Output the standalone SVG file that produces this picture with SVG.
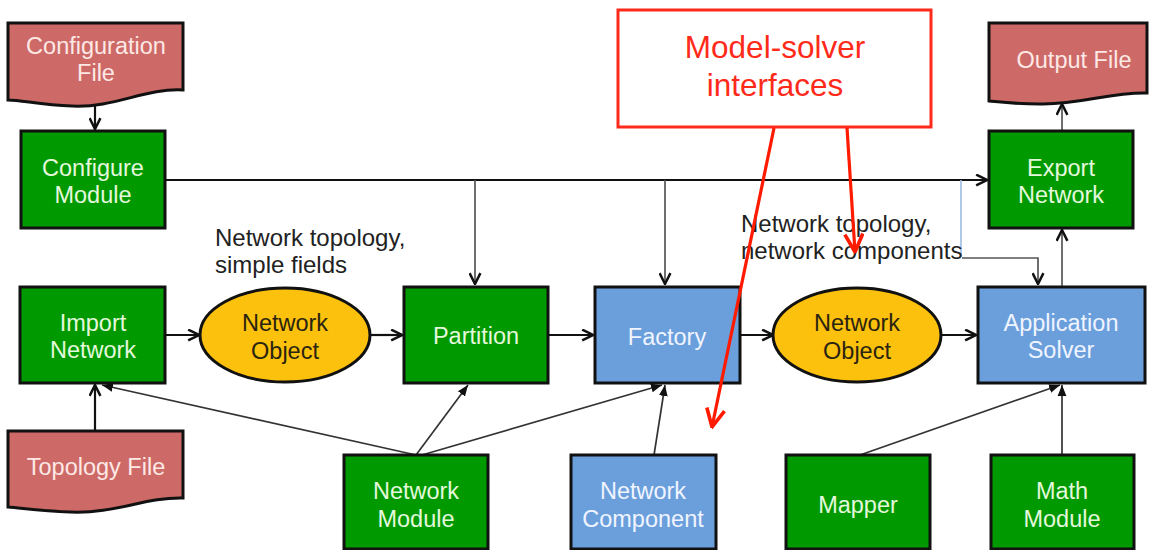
<svg xmlns="http://www.w3.org/2000/svg" width="1149" height="550" viewBox="0 0 1149 550">
  <defs>
    <style>
      text { font-family: "Liberation Sans", Arial, sans-serif; text-anchor: middle; }
      .box { stroke: #111; stroke-width: 3; }
      .green { fill: #009a00; }
      .blue { fill: #6a9fdc; }
      .doc { fill: #cd6a67; stroke: #111; stroke-width: 3; }
      .obj { fill: #fcc10c; stroke: #111; stroke-width: 3; }
      .lbl { font-size: 23.5px; fill: #e4f8dc; }
      .lbl-blue { font-size: 23.5px; fill: #f0f4ff; }
      .lbl-doc { font-size: 23.5px; fill: #fde8e6; }
      .lbl-obj { font-size: 23.5px; fill: #2a2410; }
      .note { font-size: 24px; fill: #222; text-anchor: start; }
      .flow { stroke: #111; stroke-width: 2.2; fill: none; marker-end: url(#open); }
      .feed { stroke: #555; stroke-width: 1.7; fill: none; marker-end: url(#open); }
      .thin { stroke: #333; stroke-width: 1.7; fill: none; marker-end: url(#solid); }
      .callout { stroke: #ff1a00; stroke-width: 3.2; fill: none; marker-end: url(#redhead); }
    </style>
    <marker id="open" viewBox="0 0 12 12" refX="11" refY="6" markerWidth="13" markerHeight="13" markerUnits="userSpaceOnUse" orient="auto">
      <path d="M1,1 L11,6 L1,11" fill="none" stroke="#111" stroke-width="2.3"/>
    </marker>
    <marker id="solid" viewBox="0 0 10 10" refX="10" refY="5" markerWidth="11" markerHeight="11" markerUnits="userSpaceOnUse" orient="auto">
      <path d="M0,1 L10,5 L0,9 Z" fill="#111"/>
    </marker>
    <marker id="redhead" viewBox="0 0 14 14" refX="13" refY="7" markerWidth="21" markerHeight="21" markerUnits="userSpaceOnUse" orient="auto">
      <path d="M1,1 L13,7 L1,13" fill="none" stroke="#ff1a00" stroke-width="2.4"/>
    </marker>
  </defs>

  <rect width="1149" height="550" fill="#ffffff"/>

  <!-- connectors -->
  <g id="connectors">
    <line class="flow" x1="95" y1="104" x2="95" y2="129"/>
    <line class="flow" x1="165" y1="180" x2="987" y2="180"/>
    <line class="feed" x1="475" y1="180" x2="475" y2="284"/>
    <line class="feed" x1="665" y1="180" x2="665" y2="284"/>
    <line x1="961" y1="180" x2="961" y2="257" stroke="#9bbbe2" stroke-width="1.6"/>
    <polyline class="feed" points="962,258 1038,258 1038,284"/>
    <line class="feed" x1="1062" y1="286" x2="1062" y2="230"/>
    <line class="feed" x1="1062" y1="131" x2="1062" y2="104"/>
    <line class="flow" x1="165" y1="335" x2="199" y2="335"/>
    <line class="flow" x1="370" y1="335" x2="402" y2="335"/>
    <line class="flow" x1="548" y1="335" x2="593" y2="335"/>
    <line class="flow" x1="740" y1="335" x2="773" y2="335"/>
    <line class="flow" x1="941" y1="335" x2="976" y2="335"/>
    <line class="flow" x1="95" y1="431" x2="95" y2="385"/>
    <line class="thin" x1="416" y1="455" x2="102" y2="385"/>
    <line class="thin" x1="416" y1="455" x2="468" y2="385"/>
    <line class="thin" x1="422" y1="455" x2="662" y2="385"/>
    <line class="thin" x1="654" y1="455" x2="665" y2="385"/>
    <line class="thin" x1="860" y1="455" x2="1060" y2="385"/>
    <line class="thin" x1="1062" y1="455" x2="1062" y2="385"/>
  </g>

  <!-- input / output files -->
  <g id="config-file">
    <path class="doc" d="M8,23 H183 V90 C145,88 115,108 72,106 C40,105 22,100 8,100 Z"/>
    <text class="lbl-doc" x="96" y="54">Configuration</text>
    <text class="lbl-doc" x="96" y="81">File</text>
  </g>
  <g id="output-file">
    <path class="doc" d="M989,23 H1147 V93 C1110,92 1080,105 1040,104 C1015,104 1000,102 989,101 Z"/>
    <text class="lbl-doc" x="1074" y="68">Output File</text>
  </g>
  <g id="topology-file">
    <path class="doc" d="M8,431 H183 V498 C145,497 115,514 70,512 C40,511 22,508 8,507 Z"/>
    <text class="lbl-doc" x="96" y="475">Topology File</text>
  </g>

  <!-- processing modules -->
  <g id="configure-module">
    <rect class="box green" x="21" y="131" width="144" height="97"/>
    <text class="lbl" x="93" y="176">Configure</text>
    <text class="lbl" x="93" y="203">Module</text>
  </g>
  <g id="export-network">
    <rect class="box green" x="989" y="131" width="144" height="97"/>
    <text class="lbl" x="1061" y="176">Export</text>
    <text class="lbl" x="1061" y="203">Network</text>
  </g>
  <g id="import-network">
    <rect class="box green" x="20" y="287" width="145" height="96"/>
    <text class="lbl" x="93" y="331">Import</text>
    <text class="lbl" x="93" y="358">Network</text>
  </g>
  <g id="network-object-1">
    <ellipse class="obj" cx="285" cy="335" rx="85" ry="47"/>
    <text class="lbl-obj" x="285" y="331">Network</text>
    <text class="lbl-obj" x="285" y="359">Object</text>
  </g>
  <g id="partition">
    <rect class="box green" x="404" y="287" width="144" height="96"/>
    <text class="lbl" x="476" y="344">Partition</text>
  </g>
  <g id="factory">
    <rect class="box blue" x="595" y="287" width="145" height="96"/>
    <text class="lbl-blue" x="667" y="345">Factory</text>
  </g>
  <g id="network-object-2">
    <ellipse class="obj" cx="857" cy="335" rx="84" ry="47"/>
    <text class="lbl-obj" x="857" y="331">Network</text>
    <text class="lbl-obj" x="857" y="359">Object</text>
  </g>
  <g id="application-solver">
    <rect class="box blue" x="978" y="287" width="167" height="96"/>
    <text class="lbl-blue" x="1061" y="331">Application</text>
    <text class="lbl-blue" x="1061" y="358">Solver</text>
  </g>
  <g id="network-module">
    <rect class="box green" x="344" y="455" width="144" height="94"/>
    <text class="lbl" x="416" y="499">Network</text>
    <text class="lbl" x="416" y="527">Module</text>
  </g>
  <g id="network-component">
    <rect class="box blue" x="571" y="455" width="145" height="94"/>
    <text class="lbl-blue" x="643" y="499">Network</text>
    <text class="lbl-blue" x="643" y="527">Component</text>
  </g>
  <g id="mapper">
    <rect class="box green" x="786" y="455" width="144" height="94"/>
    <text class="lbl" x="858" y="513">Mapper</text>
  </g>
  <g id="math-module">
    <rect class="box green" x="991" y="455" width="143" height="94"/>
    <text class="lbl" x="1062" y="499">Math</text>
    <text class="lbl" x="1062" y="527">Module</text>
  </g>

  <!-- data annotations -->
  <g id="note-topology-fields">
    <text class="note" x="215" y="246">Network topology,</text>
    <text class="note" x="215" y="273">simple fields</text>
  </g>
  <g id="note-topology-components">
    <text class="note" x="741" y="232">Network topology,</text>
    <text class="note" x="741" y="259">network components</text>
  </g>

  <!-- interface callout -->
  <g id="model-solver-interfaces">
    <rect x="618" y="10" width="313" height="117" fill="#ffffff" stroke="#ff2a1a" stroke-width="3"/>
    <text x="775" y="58" font-size="31.5px" fill="#ff2a1a">Model-solver</text>
    <text x="775" y="96" font-size="31.5px" fill="#ff2a1a">interfaces</text>
    <line class="callout" x1="774" y1="128" x2="712" y2="427"/>
    <line class="callout" x1="847" y1="128" x2="855" y2="252"/>
  </g>
</svg>
